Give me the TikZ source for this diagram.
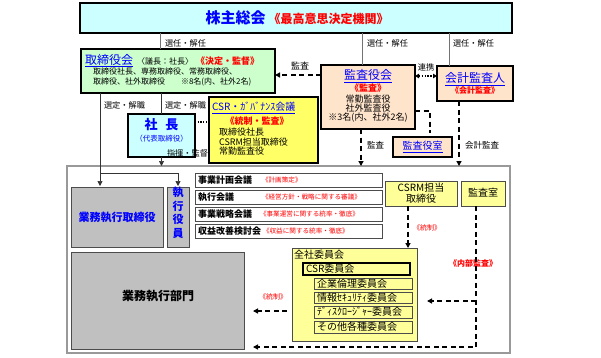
\documentclass[tikz,border=0pt]{standalone}
\usepackage{fontspec}
\setmainfont{Noto Sans CJK JP}
\usetikzlibrary{arrows.meta}
\definecolor{cyanL}{HTML}{CCFFFF}
\definecolor{greenL}{HTML}{CCFFCC}
\definecolor{peach}{HTML}{FFE4CC}
\definecolor{yelS}{HTML}{FFFF66}
\definecolor{yelL}{HTML}{FFFF99}
\definecolor{greyF}{HTML}{C0C0C0}
\definecolor{blueT}{HTML}{0000FF}
\definecolor{redT}{HTML}{FF0000}
\definecolor{frameC}{HTML}{999999}
\newcommand\myfs[1]{\fontsize{#1}{#1}\selectfont}
\newcommand\placebox[6]{\node[#6, minimum width={(#4-#2)*1pt}, minimum height={(#5-#3)*1pt}] (#1) at ({(#2+#4)/2},{(#3+#5)/2}) {};}
\tikzset{
  bk/.style={rectangle, draw=black, line width=1.3pt, inner sep=0pt, outer sep=0pt},
  gbox/.style={rectangle, draw=black!70, line width=0.8pt, fill=greyF, inner sep=0pt, outer sep=0pt},
  mbox/.style={rectangle, draw=black!70, line width=0.8pt, fill=white, inner sep=0pt, outer sep=0pt},
  ybox/.style={rectangle, draw=black!70, line width=0.8pt, fill=yelL, inner sep=0pt, outer sep=0pt},
  t/.style={inner sep=0pt, outer sep=0pt, font=\myfs{8.2}},
  ln/.style={draw=black!55, line width=0.6pt},
  ln2/.style={draw=black!80, line width=0.7pt},
  arr/.style={ln2, -{Triangle[length=5pt,width=5pt]}},
  dsh/.style={draw=black, line width=1.3pt, dash pattern=on 5pt off 3.5pt},
  darr/.style={dsh, -{Triangle[length=5pt,width=5pt]}},
  dotarr/.style={draw=black, line width=1.3pt, dash pattern=on 1.3pt off 1.6pt, {Triangle[length=4pt,width=4.5pt]}-{Triangle[length=4pt,width=4.5pt]}},
  dotln/.style={draw=black, line width=1.1pt, dash pattern=on 1.1pt off 1.6pt},
}
\begin{document}
\begin{tikzpicture}[x=1pt,y=-1pt]
\useasboundingbox (0,0) rectangle (601,357);
% frame and boxes
\placebox{frame}{67}{166}{510}{353}{rectangle, draw=frameC, line width=1.8pt, fill=white, inner sep=0pt, outer sep=0pt}
\placebox{sh}{80}{3}{512}{33}{bk, fill=cyanL}
\placebox{tori}{81}{49}{275}{93}{bk, fill=greenL}
\placebox{kansa}{321}{65}{415}{129}{bk, fill=peach}
\placebox{kaikei}{437}{66}{513}{101}{bk, fill=peach}
\placebox{kroom}{393}{137}{452}{157}{bk, fill=peach}
\placebox{shacho}{128}{114}{195}{157}{bk, fill=cyanL}
\placebox{csrg}{209}{97}{318}{163}{bk, fill=yelS}
\placebox{gyt}{71}{187}{163}{247}{gbox}
\placebox{shy}{167}{187}{189}{247}{gbox}
\placebox{m1}{195}{173}{382}{187}{mbox}
\placebox{m2}{195}{190}{382}{204}{mbox}
\placebox{m3}{195}{207}{382}{221}{mbox}
\placebox{m4}{195}{224}{382}{238}{mbox}
\placebox{csrm}{385}{181}{457}{206}{ybox}
\placebox{audit}{461}{181}{505}{206}{ybox}
\placebox{bumon}{71}{252}{244}{349}{gbox}
\placebox{zen}{292}{248}{417}{341}{ybox}
\placebox{csri}{303}{263}{410}{275}{rectangle, draw=black, line width=1.1pt, fill=yelL, inner sep=0pt, outer sep=0pt}
\placebox{c1}{314}{278}{412}{289}{ybox}
\placebox{c2}{314}{292}{412}{303}{ybox}
\placebox{c3}{314}{306}{412}{318}{ybox}
\placebox{c4}{314}{321}{412}{333}{ybox}
% texts
\node[t] (shT) at (297,18) {{\color{blueT}\bfseries\myfs{15}株主総会}\hspace{3pt}{\color{redT}\bfseries\myfs{12}《最高意思決定機関》}};
\node[t, anchor=base west] (toriT) at (85,64) {{\color{blueT}\myfs{12}\underline{取締役会}}\hspace{4pt}\myfs{8}〈議長：社長〉\hspace{3pt}{\color{redT}\bfseries\myfs{9}《決定・監督》}};
\node[t, anchor=west, font=\myfs{8}] (toriL1) at (93,71) {取締役社長、専務取締役、常務取締役、};
\node[t, anchor=west, font=\myfs{8}] (toriL2) at (93,82) {取締役、社外取締役\hspace{16pt}※8名(内、社外2名)};
\node[t] (kansaT) at (368,76) {\color{blueT}\myfs{12}\underline{監査役会}};
\node[t] (kansaR) at (368,88) {\color{redT}\bfseries\myfs{9}《監査》};
\node[t, font=\myfs{9}] (kansaL1) at (368,99) {常勤監査役};
\node[t, font=\myfs{9}] (kansaL2) at (368,108.5) {社外監査役};
\node[t, font=\myfs{9}] (kansaL3) at (368,118) {※3名(内、社外2名)};
\node[t] (kaikeiT) at (475,79) {\color{blueT}\myfs{12}\underline{会計監査人}};
\node[t] (kaikeiR) at (475,90) {\color{redT}\bfseries\myfs{8}《会計監査》};
\node[t] (kroomT) at (422.5,147) {\color{blueT}\myfs{10}\underline{監査役室}};
\node[t] (shachoT) at (161.5,125) {\color{blueT}\bfseries\myfs{13}社\hspace{8pt}長};
\node[t] (shachoS) at (161.5,139) {\color{blueT}\myfs{7.5}（代表取締役）};
\node[t, anchor=west] (csrgT) at (212,108) {\color{blueT}\myfs{10}\underline{CSR・ｶﾞﾊﾞﾅﾝｽ会議}};
\node[t] (csrgR) at (257,121) {\color{redT}\bfseries\myfs{9}《統制・監査》};
\node[t, anchor=west, font=\myfs{9}] (csrgL1) at (219,132) {取締役社長};
\node[t, anchor=west, font=\myfs{9}] (csrgL2) at (219,142) {CSRM担当取締役};
\node[t, anchor=west, font=\myfs{9}] (csrgL3) at (219,151.5) {常勤監査役};
\node[t] (gytT) at (117,217) {\color{blueT}\bfseries\myfs{11}業務執行取締役};
\node[t, align=center, font=\color{blueT}\bfseries\fontsize{11}{13.5}\selectfont] (shyT) at (178,213) {執\\行\\役\\員};
\node[t, anchor=west, font=\bfseries\myfs{9}] (m1T) at (198,180) {事業計画会議};
\node[t, anchor=west, font=\bfseries\myfs{9}] (m2T) at (198,197) {執行会議};
\node[t, anchor=west, font=\bfseries\myfs{9}] (m3T) at (198,214) {事業戦略会議};
\node[t, anchor=west, font=\bfseries\myfs{9}] (m4T) at (198,231) {収益改善検討会};
\node[t, anchor=west, font=\color{redT}\myfs{6.6}] (m1R) at (262,180) {《計画策定》};
\node[t, anchor=west, font=\color{redT}\myfs{6.6}] (m2R) at (262,197) {《経営方針・戦略に関する審議》};
\node[t, anchor=west, font=\color{redT}\myfs{6.6}] (m3R) at (260,214) {《事業運営に関する統率・徹底》};
\node[t, anchor=west, font=\color{redT}\myfs{6.6}] (m4R) at (263,231) {《収益に関する統率・徹底》};
\node[t, align=center, font=\fontsize{10}{11}\selectfont] (csrmT) at (421,193) {CSRM担当\\取締役};
\node[t, font=\myfs{10}] (auditT) at (483,193) {監査室};
\node[t, font=\bfseries\myfs{12}] (bumonT) at (158,296) {業務執行部門};
\node[t, anchor=west, font=\myfs{10}] (zenT) at (294,255) {全社委員会};
\node[t, anchor=west, font=\myfs{10}] (csriT) at (306,269) {CSR委員会};
\node[t, anchor=west, font=\myfs{10}] (c1T) at (317,283.5) {企業倫理委員会};
\node[t, anchor=west, font=\myfs{10}] (c2T) at (317,297.5) {情報ｾｷｭﾘﾃｨ委員会};
\node[t, anchor=west, font=\myfs{10}] (c3T) at (317,312) {ﾃﾞｨｽｸﾛｰｼﾞｬｰ委員会};
\node[t, anchor=west, font=\myfs{10}] (c4T) at (317,327) {その他各種委員会};
% connector labels
\node[t, anchor=west] (lb1) at (165,43) {選任・解任};
\node[t, anchor=west] (lb2) at (367,43) {選任・解任};
\node[t, anchor=west] (lb3) at (453,43) {選任・解任};
\node[t, font=\myfs{9}] (lb4) at (300,66) {監査};
\node[t] (lb5) at (426,67) {連携};
\node[t, anchor=west] (lb6) at (104,105) {選定・解職};
\node[t, anchor=west] (lb7) at (165,105) {選定・解職};
\node[t, anchor=west] (lb8) at (167,153) {指揮・監督};
\node[t, anchor=west, font=\myfs{8.5}] (lb9) at (367,145) {監査};
\node[t, anchor=west, font=\myfs{8.5}] (lb10) at (465,145) {会計監査};
\node[t, anchor=west, font=\color{redT}\myfs{7}] (lb11) at (413,228) {《統制》};
\node[t, font=\color{redT}\bfseries\myfs{8}] (lb12) at (473,263) {《内部監査》};
\node[t, font=\color{redT}\myfs{7}] (lb13) at (273,297) {《統制》};
% connectors
\draw[ln] (sh.south -| 160,0) -- (tori.north -| 160,0);
\draw[ln] (sh.south -| 362,0) -- (kansa.north -| 362,0);
\draw[ln] (sh.south -| 449,0) -- (kaikei.north -| 449,0);
\draw[darr] (kansa.west |- 0,75) -- (tori.east |- 0,75);
\draw[dotarr] (kansa.east |- 0,76) -- (kaikei.west |- 0,76);
\draw[dsh, shorten >=4pt] (kansa.east |- 0,111) -| ([xshift=7.5pt]kroom.north);
\draw[darr] (kansa.south -| 361,0) -- (frame.north -| 361,0);
\draw[darr] (kaikei.south -| 459,0) -- (frame.north -| 459,0);
\coordinate (br) at (100,173);
\draw[ln2] (tori.south -| br) -- (br);
\draw[arr, shorten >=1pt] (br) -- (gyt.north -| br);
\draw[arr, shorten >=1pt] (br) -| (shy.north);
\draw[ln2] (tori.south -| shacho.north) -- (shacho.north);
\draw[arr] (shacho.south) -- (frame.north -| shacho.south);
\draw[dotln] (shacho.east |- 0,122) -- (csrg.west |- 0,122);
\draw[darr] (csrm.south -| 408,0) -- (zen.north -| 408,0);
\coordinate (ac) at (476,347);
\coordinate (ab) at (476,301);
\draw[darr, shorten >=9pt] (audit.south -| ac) |- (bumon.east |- ac);
\draw[darr, shorten >=10pt] (ab) -- (zen.east |- ab);
\draw[darr, shorten <=5pt, shorten >=9pt] (zen.west |- 0,311) -- (bumon.east |- 0,311);
\end{tikzpicture}
\end{document}
